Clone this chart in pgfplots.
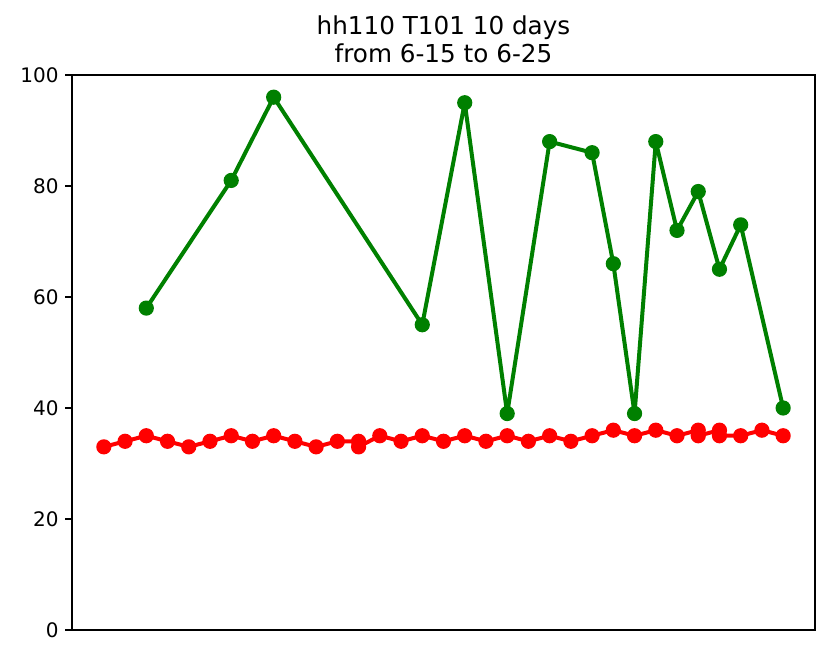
\documentclass[border=0pt]{standalone}
\usepackage{fontspec}
\setmainfont{DejaVu Sans}
\usepackage{pgfplots}
\pgfplotsset{compat=1.18}
\definecolor{mplgreen}{RGB}{0,128,0}
\definecolor{mplred}{RGB}{255,0,0}
\begin{document}
\begin{tikzpicture}
\path[use as bounding box] (0,0) rectangle (630pt,495pt);
\begin{axis}[
  at={(54pt,22.5pt)}, anchor=south west,
  scale only axis,
  width=557.25pt, height=416.25pt,
  xmin=-1.5, xmax=33.5,
  ymin=0, ymax=100,
  xtick=\empty,
  ytick={0,20,40,60,80,100},
  tick align=outside,
  tick pos=left,
  major tick length=5.1pt,
  axis line style={line width=1.1pt},
  every tick/.style={line width=1.1pt, black},
  tick label style={font=\fontsize{15}{18}\selectfont},
  yticklabel style={xshift=-1.5pt},
  /pgf/number format/assume math mode=true,
  clip=false,
]
\addplot[color=mplgreen, line width=3pt, line join=round, mark=*, mark size=5.2pt,
  mark options={solid, line width=1pt, fill=mplgreen, draw=mplgreen}]
coordinates {
(2,58) (6,81) (8,96) (15,55) (17,95) (19,39) (21,88) (23,86) (24,66)
(25,39) (26,88) (27,72) (28,79) (29,65) (30,73) (32,40)
};
\addplot[color=mplred, line width=3pt, line join=round, mark=*, mark size=5.2pt,
  mark options={solid, line width=1pt, fill=mplred, draw=mplred}]
coordinates {
(0,33) (1,34) (2,35) (3,34) (4,33) (5,34) (6,35) (7,34) (8,35) (9,34)
(10,33) (11,34) (12,34) (12,33) (13,35) (14,34) (15,35) (16,34) (17,35)
(18,34) (19,35) (20,34) (21,35) (22,34) (23,35) (24,36) (25,35) (26,36)
(27,35) (28,36) (28,35) (29,36) (29,35) (30,35) (31,36) (32,35)
};
\node[anchor=base, font=\fontsize{18.5}{22}\selectfont] at (rel axis cs:0.5,1) [yshift=30pt] {hh110 T101 10 days};
\node[anchor=base, font=\fontsize{18.5}{22}\selectfont] at (rel axis cs:0.5,1) [yshift=9pt] {from 6-15 to 6-25};
\end{axis}
\end{tikzpicture}
\end{document}
